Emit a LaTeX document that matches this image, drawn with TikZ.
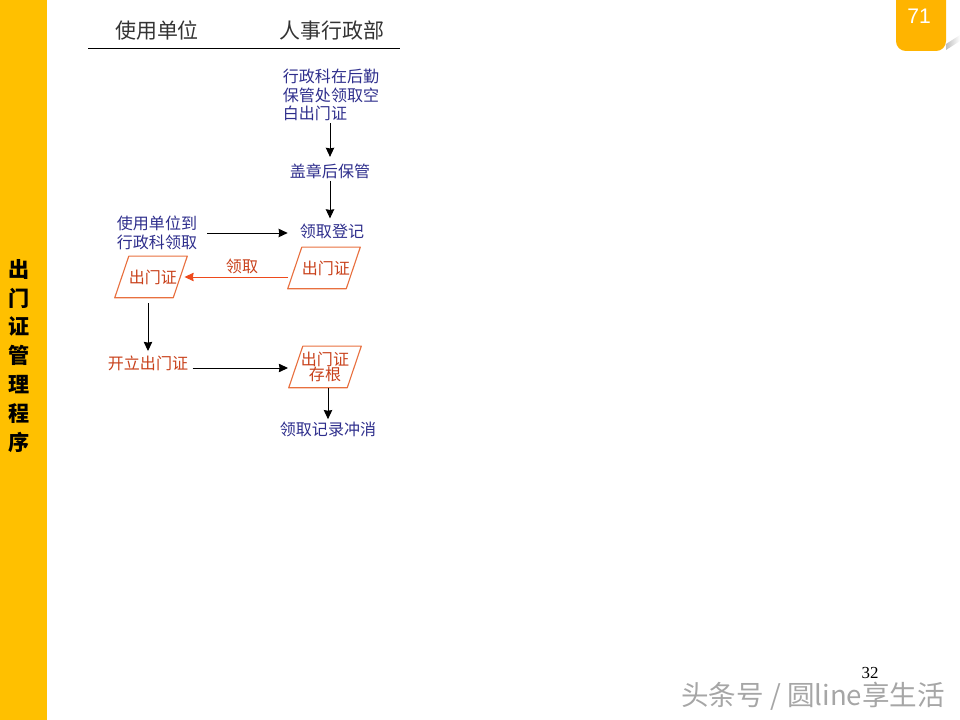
\documentclass[tikz,border=0pt]{standalone}
\usepackage{fontspec}
\usepackage{tikz}
\usetikzlibrary{arrows.meta}
\setmainfont{Liberation Serif}
\newfontfamily\cjk{Noto Sans CJK SC}
\newfontfamily\latinsans{Liberation Sans}
\definecolor{sidebar}{HTML}{FFC000}
\definecolor{badge}{HTML}{FFB400}
\definecolor{navytext}{HTML}{2E2E8C}
\definecolor{redtext}{HTML}{C8401A}
\definecolor{cardline}{HTML}{E8703F}
\definecolor{givered}{HTML}{EE4A1C}
\tikzset{step text/.style = {font = \cjk\fontsize{11.4}{13.2}\selectfont, text = navytext,
                             align = center, inner xsep = 7, inner ysep = 1.5}}
\tikzset{red text/.style = {step text, text = redtext, inner xsep = 3}}
\tikzset{card/.style = {minimum width = 41.2pt, minimum height = 29.2pt, inner sep = 0,
                        text = redtext, align = center,
                        font = \cjk\fontsize{11.4}{10.6}\selectfont,
                        append after command = {\pgfextra{\let\cardname\tikzlastnode
                          \draw [draw = cardline, line width = 0.8pt, line join = round]
                            ([xshift = -5pt]\cardname.south west) -- ([xshift = 5pt]\cardname.north west)
                            -- ([xshift = 5pt]\cardname.north east) -- ([xshift = -5pt]\cardname.south east)
                            -- cycle;}}}}
\tikzset{head/.style = {font = \cjk\fontsize{14.9}{16}\selectfont, text = black!80}}
\tikzset{flow/.style = {line width = 0.7pt, -{Stealth[length = 6.5pt, width = 6pt, inset = 0.5pt]}}}
\tikzset{give/.style = {flow, draw = givered}}

\begin{document}
\begin{tikzpicture}[x = 0.025cm, y = -0.025cm]
      \useasboundingbox (0, 0) rectangle (960, 720);
      \fill [sidebar] (0, 0) rectangle (47, 720);
      \shade [left color = gray!50, right color = white, draw = none]
        (946, 44) -- (960, 35) -- (960, 41) -- (946, 50) -- cycle;
      \fill [badge, rounded corners = 7] (896, -12) -- (946, -12) -- (946, 51) -- (896, 51) -- cycle;

      \node (title) [font = \cjk\bfseries\fontsize{15}{20.6}\selectfont, align = center, text = black]
        at (19, 356) {出\\门\\证\\管\\理\\程\\序};
      \node (badgeno) [font = \latinsans\fontsize{15}{15}\selectfont, text = white] at (919, 16) {71};
      \node (pageno) [font = \fontsize{12}{12}\selectfont] at (870, 673) {32};
      \node (mark) [font = \cjk\fontsize{19.6}{20}\selectfont, text = black!35] at (813, 696) {头条号 / 圆line享生活};

      \node (unithead) [head] at (157, 31) {使用单位};
      \node (hrhead) [head] at (332, 31) {人事行政部};
      \coordinate (ruleleft) at (88, 48);
      \coordinate (ruleright) at (400, 48);
      \draw [line width = 0.7pt] (ruleleft) -- (ruleright);

      \node (blank) [step text, align = left] at (331, 95) {行政科在后勤\\保管处领取空\\白出门证};
      \node (stamp) [step text] at (330, 171) {盖章后保管};
      \node (register) [step text] at (332, 231) {领取登记};
      \node (unit) [step text, align = left] at (157, 233) {使用单位到\\行政科领取};
      \node (permit) [card] at (324, 268) {\ 出门证};
      \node (holder) [card] at (151, 277) {\ 出门证};
      \node (taken) [red text] at (242, 266) {领取};
      \node (issue) [red text] at (148, 363) {开立出门证};
      \node (stub) [card] at (325, 367) {出门证\\存根};
      \node (clear) [step text] at (328, 429) {领取记录冲消};

      \coordinate (handout) at (288, 277);
      \coordinate (stubin) at (288, 368);
      \draw [flow, shorten > = 3pt] (blank.south -| stamp.north) -- (stamp.north);
      \draw [flow, shorten > = 2pt] (stamp) -- (register.north -| stamp.north);
      \draw [flow, shorten > = 1.5pt] (unit.east) -- (unit.east -| register.west);
      \draw [give, shorten > = 3pt] (handout) -- (handout -| holder.east);
      \draw [flow, shorten < = 4pt, shorten > = 1.5pt] (holder.south -| issue.north) -- (issue.north);
      \draw [flow] (issue.east |- stubin) -- (stubin);
      \draw [flow] (stub.south -| clear.north) -- (clear.north);
    \end{tikzpicture}
\end{document}
